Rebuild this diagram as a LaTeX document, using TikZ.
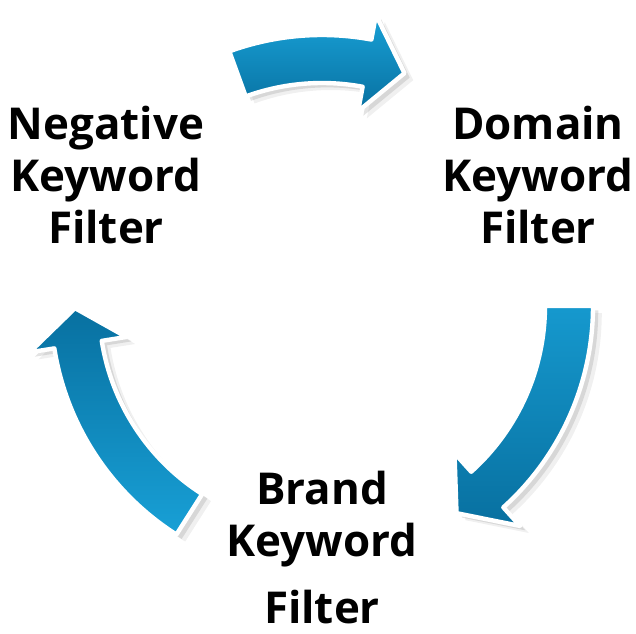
\documentclass[tikz,border=0pt]{standalone}
\usepackage{fontspec}
\setmainfont{Open Sans}
\usetikzlibrary{shadows}
\definecolor{arrowlight}{RGB}{24,160,214}
\definecolor{arrowdark}{RGB}{8,112,160}
\tikzstyle{stage} = [align=center, font=\fontsize{25}{29.5}\selectfont\bfseries, inner sep=0pt, anchor=north]
\tikzstyle{band} = [draw=white, line width=2.5pt, line join=round,
  drop shadow={shadow xshift=5pt, shadow yshift=-4pt, opacity=0.12},
  drop shadow={shadow xshift=3pt, shadow yshift=-2.5pt, opacity=0.22}]
\begin{document}
\begin{tikzpicture}[x=0.02cm, y=0.02cm]
\useasboundingbox (0,0) rectangle (636,633);
\node (negative) [stage] at (106,527) {Negative\\Keyword\\Filter};
\node (domain) [stage] at (538,527) {Domain\\Keyword\\Filter};
\node (brand) [stage] at (322,162) {Brand\\Keyword\\[0.3cm]Filter};
\begin{scope}[shift={(322,327)}]
\draw [band, top color=arrowlight, bottom color=arrowdark] (110:271) arc[start angle=110, end angle=79.5, radius=271] -- (79.5:296) -- (70.5:247) -- (79.5:198) -- (79.5:223) arc[start angle=79.5, end angle=110, radius=223] -- cycle;
\draw [band, top color=arrowlight!85!arrowdark, bottom color=arrowdark] (0:271) arc[start angle=0, end angle=-48, radius=271] -- (-48:296) -- (-57:247) -- (-48:198) -- (-48:223) arc[start angle=-48, end angle=0, radius=223] -- cycle;
\draw [band, top color=arrowdark, bottom color=arrowlight] (237.5:271) arc[start angle=237.5, end angle=189, radius=271] -- (189:296) -- (180.5:247) -- (189:198) -- (189:223) arc[start angle=189, end angle=237.5, radius=223] -- cycle;
\end{scope}
\end{tikzpicture}
\end{document}
